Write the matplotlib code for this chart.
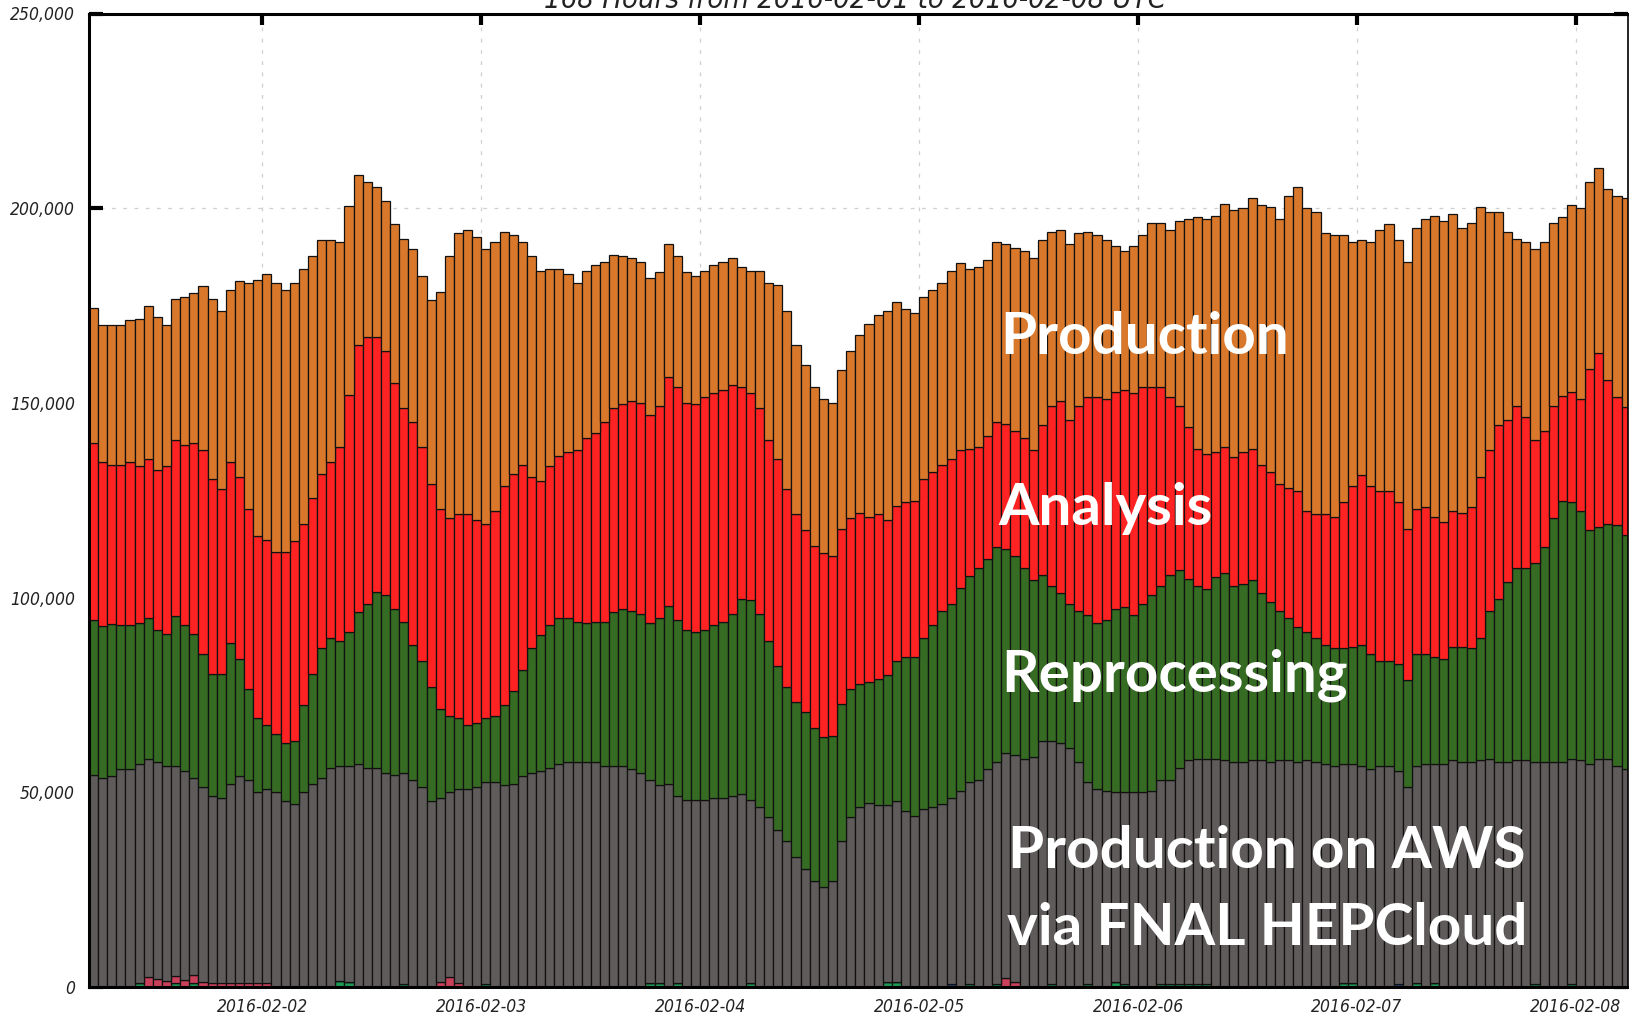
import numpy as np
import matplotlib.pyplot as plt
from matplotlib import font_manager

# values in thousands, one per hourly bin (169 bins, last one clipped)
aws_top = np.array([
    54.5, 53.6, 54.1, 55.9, 55.9, 57.3, 58.6, 57.7, 56.8, 56.8,
    55.5, 53.6, 51.4, 49.0, 48.5, 52.2, 54.1, 53.2, 50.0, 50.8,
    50.0, 47.7, 47.1, 50.0, 52.2, 53.6, 56.3, 56.8, 56.8, 57.3,
    56.3, 56.3, 54.9, 54.5, 54.9, 53.2, 51.4, 47.7, 48.6, 50.0,
    50.8, 50.8, 51.4, 52.7, 52.7, 51.8, 52.2, 54.1, 54.9, 55.5,
    56.3, 57.3, 57.7, 57.7, 57.7, 57.7, 56.8, 56.8, 56.8, 55.9,
    54.9, 53.2, 51.8, 52.2, 49.0, 48.1, 48.1, 48.1, 48.6, 48.6,
    49.0, 49.5, 48.1, 46.3, 43.6, 40.3, 37.5, 33.4, 30.3, 27.1,
    25.8, 27.1, 37.5, 43.6, 46.3, 47.3, 46.7, 46.7, 47.7, 45.3,
    44.0, 45.8, 46.3, 47.1, 48.5, 50.4, 52.6, 53.2, 55.9, 57.7,
    60.0, 59.6, 58.6, 59.0, 63.2, 63.2, 62.7, 61.4, 57.7, 52.6,
    50.8, 50.4, 50.0, 50.0, 50.0, 50.0, 50.4, 53.2, 53.2, 56.3,
    58.2, 58.6, 58.6, 58.6, 58.2, 57.7, 57.7, 58.2, 58.2, 57.7,
    58.2, 58.2, 57.7, 58.2, 57.7, 57.3, 56.8, 57.3, 57.3, 56.8,
    55.9, 56.8, 56.8, 55.5, 51.4, 56.8, 57.3, 57.3, 57.3, 58.2,
    57.7, 57.7, 58.2, 58.6, 57.7, 57.7, 58.2, 58.2, 57.7, 57.7,
    57.7, 57.7, 58.6, 58.2, 57.3, 58.6, 58.6, 56.8, 55.9])

reprocessing_top = np.array([
    94.2, 92.6, 93.3, 93.0, 92.9, 93.4, 94.8, 91.6, 90.7, 95.2,
    93.0, 90.7, 85.6, 80.5, 80.5, 88.4, 84.2, 76.4, 69.2, 67.3,
    65.1, 62.7, 63.2, 72.3, 80.5, 87.0, 89.7, 88.9, 91.1, 96.2,
    98.4, 101.5, 100.7, 97.0, 93.8, 87.9, 83.8, 77.0, 71.5, 69.6,
    69.2, 67.4, 67.8, 69.2, 69.6, 72.3, 76.0, 81.5, 87.0, 90.3,
    93.0, 94.8, 94.8, 93.8, 93.4, 93.8, 93.8, 96.2, 97.0, 96.6,
    95.8, 93.4, 94.8, 97.9, 94.2, 91.6, 91.1, 91.6, 93.0, 93.8,
    95.8, 99.7, 99.3, 95.8, 88.9, 82.5, 77.0, 73.3, 70.5, 66.4,
    64.1, 64.5, 72.7, 76.4, 77.8, 78.4, 79.2, 80.1, 83.8, 84.7,
    84.7, 89.7, 92.9, 96.6, 98.4, 102.5, 105.6, 107.5, 109.9, 113.0,
    112.6, 110.8, 107.5, 104.4, 105.8, 103.0, 101.1, 98.4, 96.6, 95.6,
    93.4, 94.2, 97.0, 97.5, 95.6, 98.4, 100.7, 103.0, 105.8, 107.1,
    104.8, 103.0, 102.1, 105.2, 106.2, 103.0, 103.4, 104.4, 101.1, 98.9,
    96.6, 94.8, 92.5, 91.1, 89.7, 87.9, 87.0, 87.0, 87.4, 87.9,
    85.6, 83.8, 83.8, 82.9, 78.8, 85.6, 85.6, 84.7, 84.2, 87.4,
    87.4, 87.0, 89.7, 96.6, 99.7, 104.0, 107.5, 107.5, 108.9, 113.0,
    120.4, 124.9, 124.5, 122.2, 117.3, 118.1, 119.0, 118.6, 116.1])

analysis_top = np.array([
    139.6, 134.7, 134.1, 134.1, 134.7, 133.7, 135.5, 132.7, 133.7, 140.5,
    139.2, 139.6, 137.8, 130.5, 127.8, 134.7, 131.0, 122.7, 115.9, 114.9,
    111.8, 111.8, 114.5, 119.0, 125.5, 131.8, 134.7, 138.8, 152.1, 164.8,
    167.0, 167.0, 163.4, 155.2, 148.8, 145.1, 138.8, 129.2, 122.7, 120.4,
    121.4, 121.4, 120.0, 119.0, 122.2, 128.6, 131.8, 134.1, 131.0, 130.0,
    133.7, 136.4, 137.4, 137.8, 141.0, 142.3, 145.1, 148.8, 149.7, 150.5,
    150.1, 147.0, 149.2, 156.6, 154.2, 150.1, 149.7, 151.5, 152.5, 153.3,
    154.7, 154.2, 152.5, 148.8, 140.5, 135.5, 127.8, 121.4, 117.3, 113.2,
    111.4, 110.8, 117.7, 120.4, 121.8, 120.8, 121.4, 120.0, 123.6, 124.5,
    124.9, 130.4, 132.3, 134.1, 135.5, 137.8, 138.2, 138.8, 141.5, 145.1,
    144.7, 142.9, 141.0, 137.8, 144.2, 149.2, 150.5, 145.6, 149.2, 151.5,
    151.5, 151.1, 152.9, 153.3, 152.5, 154.2, 154.2, 154.2, 151.5, 149.2,
    143.7, 138.2, 136.8, 137.4, 138.8, 136.0, 137.4, 138.2, 134.1, 132.3,
    129.2, 128.2, 127.3, 122.2, 121.4, 121.4, 120.8, 124.5, 128.6, 131.4,
    128.6, 127.3, 127.3, 124.5, 117.7, 122.7, 123.2, 120.8, 119.5, 122.2,
    121.8, 123.2, 131.0, 137.8, 144.2, 145.6, 149.2, 146.4, 140.5, 142.9,
    149.2, 151.9, 152.9, 151.1, 158.8, 162.9, 156.0, 151.5, 149.0])

total = np.array([
    174.4, 169.9, 169.9, 169.9, 171.2, 171.6, 174.9, 172.1, 169.9, 176.7,
    177.3, 178.1, 179.9, 176.7, 173.6, 179.0, 181.2, 180.8, 181.6, 183.0,
    180.8, 179.0, 180.8, 184.5, 187.7, 191.8, 191.8, 191.2, 200.5, 208.6,
    206.8, 205.5, 201.9, 196.0, 192.2, 189.5, 182.6, 176.3, 178.6, 187.7,
    193.6, 194.5, 192.6, 189.5, 191.2, 194.0, 193.2, 191.2, 187.7, 184.0,
    184.5, 184.5, 183.0, 180.8, 184.0, 185.3, 186.3, 188.1, 187.7, 187.1,
    186.3, 182.2, 183.6, 190.8, 187.7, 183.6, 182.6, 184.0, 185.3, 186.3,
    187.1, 184.9, 184.0, 184.0, 180.8, 180.4, 173.6, 164.8, 159.7, 154.2,
    151.1, 150.1, 158.4, 163.4, 167.5, 170.3, 172.6, 173.6, 175.8, 174.0,
    173.0, 177.1, 179.0, 180.8, 184.0, 185.8, 184.5, 184.9, 186.7, 191.2,
    190.8, 189.9, 189.0, 187.1, 191.8, 194.0, 194.5, 190.8, 193.6, 194.0,
    193.2, 191.8, 190.4, 189.0, 190.4, 193.2, 196.3, 196.3, 194.5, 196.7,
    197.3, 197.7, 197.3, 198.1, 201.2, 199.5, 200.0, 202.6, 200.8, 200.4,
    197.3, 203.2, 205.5, 200.0, 199.0, 193.6, 193.2, 193.2, 191.2, 191.8,
    191.2, 194.5, 195.9, 191.8, 186.3, 194.9, 197.3, 198.1, 196.7, 198.6,
    194.9, 196.3, 200.4, 199.0, 199.0, 194.0, 192.2, 191.2, 189.5, 191.2,
    196.3, 197.7, 200.8, 200.0, 206.8, 210.4, 204.9, 203.2, 202.6])

# tiny series at the very bottom: (bin index, value in thousands)
small_green_idx = [5, 9, 11, 27, 28, 34, 43, 61, 62, 64, 72, 87, 88, 96, 99, 105, 109,
                   112, 113, 117, 118, 119, 120, 121, 122, 137, 138, 145, 147, 158, 162]
small_green_val = [1.0, 1.0, 1.0, 1.6, 1.2, 0.8, 0.8, 0.9, 0.9, 0.9, 0.9, 1.2, 1.2, 0.8,
                   0.8, 0.8, 0.8, 1.2, 0.8, 0.8, 0.8, 0.8, 0.8, 0.8, 0.8, 0.9, 0.9, 0.9,
                   0.9, 0.8, 0.8]
small_pink_idx = [6, 7, 8, 9, 10, 11, 12, 13, 14, 15, 16, 17, 18, 19, 38, 39, 40, 100, 101]
small_pink_val = [2.5, 2.0, 1.5, 1.8, 1.8, 2.0, 1.2, 1.0, 1.0, 1.0, 1.0, 1.0, 1.0, 1.0,
                  1.2, 2.5, 1.0, 2.2, 1.2]
small_blue_idx = [94, 143]
small_blue_val = [0.8, 0.8]

title = "168 Hours from 2016-02-01 to 2016-02-08 UTC"
day_labels = ["2016-02-02", "2016-02-03", "2016-02-04", "2016-02-05",
              "2016-02-06", "2016-02-07", "2016-02-08"]
first_day_tick = 19  # bin index where 2016-02-02 00:00 falls

n = len(total)
x = np.arange(n)

green_small = np.zeros(n)
green_small[small_green_idx] = small_green_val
pink_small = np.zeros(n)
pink_small[small_pink_idx] = small_pink_val
blue_small = np.zeros(n)
blue_small[small_blue_idx] = small_blue_val
small_top = green_small + pink_small + blue_small

aws = aws_top - small_top
reprocessing = reprocessing_top - aws_top
analysis = analysis_top - reprocessing_top
production = total - analysis_top

# narrow italic for the axis texts if a condensed face is around
cond = font_manager.FontProperties(family='DejaVu Sans', style='italic', stretch='condensed')
have_cond = 'Condensed' in font_manager.findfont(cond, fallback_to_default=True)
scale = 1.0 if have_cond else 0.88
lab_kw = dict(family='DejaVu Sans', style='italic', color='#222222')
if have_cond:
    lab_kw['stretch'] = 'condensed'
tick_fs = 12.5 * scale
title_fs = 21 * scale

W, H = 1629, 1017
fig = plt.figure(figsize=(W / 100, H / 100), dpi=100)
ax = fig.add_axes([89 / W, 1 - 987 / H, (1628 - 89) / W, (987 - 13.5) / H])

edge = dict(edgecolor='#111111', linewidth=0.9, width=1.0, align='edge')

k = 1000.0
bottom = np.zeros(n)
for vals, col in [(green_small, '#1f9a55'), (blue_small, '#1f4f8f'), (pink_small, '#c8405a')]:
    ax.bar(x, vals * k, bottom=bottom, color=col, zorder=2, **edge)
    bottom = bottom + vals * k
layers = [(aws, '#5f5b5b'), (reprocessing, '#356b22'),
          (analysis, '#ff2222'), (production, '#d9772a')]
for vals, col in layers:
    ax.bar(x, vals * k, bottom=bottom, color=col, zorder=2, **edge)
    bottom = bottom + vals * k

ax.set_xlim(0, 168.7)
ax.set_ylim(0, 250000)

yt = np.arange(0, 250001, 50000)
ax.set_yticks(yt)
ax.set_yticklabels(["0" if v == 0 else f"{v:,}" for v in yt], fontsize=tick_fs, **lab_kw)
xt = first_day_tick + 24 * np.arange(len(day_labels))
ax.set_xticks(xt)
ax.set_xticklabels(day_labels, fontsize=tick_fs, **lab_kw)

ax.tick_params(axis='y', direction='in', length=10, width=3, pad=10,
               left=True, right=True, color='black')
ax.tick_params(axis='x', direction='in', length=8, width=3, pad=8,
               top=True, bottom=True, color='black')

for side in ['left', 'top', 'bottom']:
    ax.spines[side].set_linewidth(2.2)
ax.spines['right'].set_linewidth(1.2)

ax.grid(True, color='#cfcfcf', linestyle=(0, (3, 6)), linewidth=0.9, zorder=0)
ax.set_axisbelow(True)

fig.text(855 / W, 1 - 8.5 / H, title, ha='center', va='baseline',
         fontsize=title_fs, **lab_kw)

overlay = [("Production", 1000, 354), ("Analysis", 998, 525), ("Reprocessing", 1001, 692),
           ("Production on AWS", 1008, 868), ("via FNAL HEPCloud", 1007, 945)]
for txt, px, py in overlay:
    fig.text(px / W, 1 - py / H, txt, ha='left', va='baseline', family='Lato',
             weight='bold', fontsize=42, color='white', zorder=10)

fig.savefig("out.png", dpi=100)
